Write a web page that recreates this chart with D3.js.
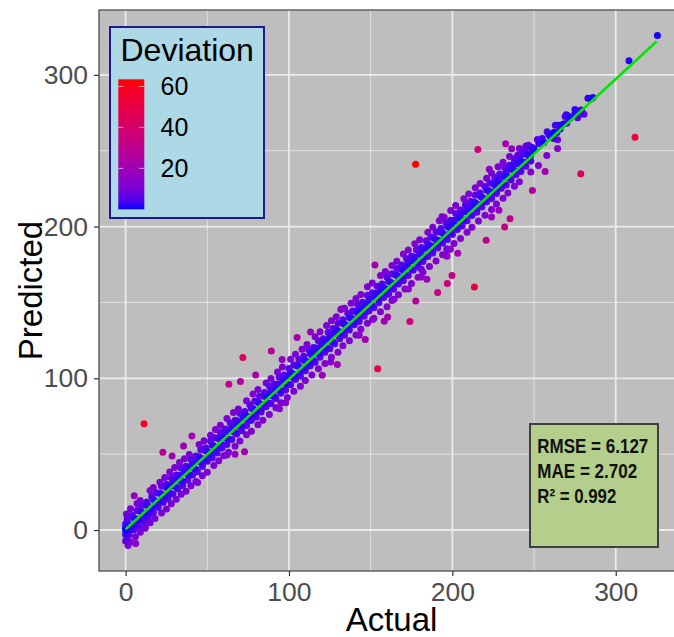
<!DOCTYPE html>
<html>
<head>
<meta charset="utf-8">
<script src="https://cdn.jsdelivr.net/npm/d3@7"></script>
<style>
  html, body { margin: 0; padding: 0; background: #ffffff; }
  svg { display: block; font-family: "Liberation Sans", Arial, sans-serif; }
</style>
</head>
<body>
<svg id="chart" width="674" height="637"></svg>
<script>
// ---------------- DATA ----------------
// [actual, predicted] pairs
const coreBand = [
  [0,0],[2,3.1],[4,3.2],[6,7.5],[8,6.8],[10,11.6],[12,11.0],[14,15.8],[16,14.9],[18,19.2],
  [20,18.4],[22,23.7],[24,22.6],[26,27.1],[28,29.5],[30,28.8],[32,33.4],[34,32.1],[36,37.6],[38,36.9],
  [40,41.8],[42,40.5],[44,45.2],[46,47.3],[48,46.6],[50,51.9],[52,50.7],[54,55.3],[56,54.2],[58,59.6],
  [60,61.1],[62,60.4],[64,65.8],[66,64.9],[68,69.5],[70,68.2],[72,73.6],[74,75.2],[76,74.5],[78,79.9],
  [80,78.6],[82,83.3],[84,82.4],[86,87.7],[88,89.1],[90,88.3],[92,93.5],[94,92.2],[96,97.8],[98,96.6],
  [100,101.4],[102,103.2],[104,102.5],[106,107.9],[108,106.4],[110,111.6],[112,110.8],[114,115.3],[116,117.5],[118,116.2],
  [120,121.8],[122,120.6],[124,125.4],[126,124.1],[128,129.7],[130,131.2],[132,130.3],[134,135.6],[136,134.7],[138,139.9],
  [140,138.5],[142,143.2],[144,145.6],[146,144.4],[148,149.3],[150,148.8],[152,153.7],[154,152.9],[156,157.4],[158,159.8],
  [160,158.6],[162,163.5],[164,162.3],[166,167.9],[168,166.7],[170,171.2],[172,173.8],[174,172.6],[176,177.4],[178,176.5],
  [180,181.7],[182,180.4],[184,185.5],[186,187.9],[188,186.8],[190,191.3],[192,190.6],[194,195.8],[196,194.4],[198,199.6],
  [200,201.9],[202,200.7],[204,205.4],[206,204.5],[208,209.8],[210,208.9],[212,213.1],[214,215.6],[216,214.3],[218,219.4],
  [220,218.2],[222,223.7],[224,222.8],[226,227.5],[228,229.9],[230,228.4],[232,233.2],[234,232.6],[236,237.8],[238,236.7],
  [240,241.4],[242,243.1],[244,242.2],[246,247.5],[248,246.9],[250,251.3],
  [253,254.8],[256,255.4],[259,260.6],[262,261.9],[265,266.7],[268,267.5],[271,272.8],[275,274.1]
];
const innerBand = [
  [1,3.9],[3,0.2],[5,8.1],[7,4.3],[9,12.2],[11,8.0],[13,16.3],[15,11.9],[17,20.1],[19,16.2],
  [21,24.0],[23,19.8],[25,28.2],[27,24.1],[29,31.8],[31,28.3],[33,36.1],[35,31.9],[37,40.2],[39,36.0],
  [41,43.8],[43,40.1],[45,48.3],[47,43.9],[49,52.0],[51,48.2],[53,56.1],[55,51.8],[57,60.2],[59,56.0],
  [61,64.1],[63,59.9],[65,68.3],[67,64.1],[69,71.9],[71,68.2],[73,76.0],[75,71.8],[77,80.2],[79,76.1],
  [81,84.3],[83,79.9],[85,88.1],[87,83.8],[89,92.2],[91,88.0],[93,96.1],[95,91.9],[97,100.3],[99,96.1],
  [101,104.0],[103,99.8],[105,108.2],[107,104.1],[109,112.1],[111,107.9],[113,116.3],[115,111.8],[117,120.0],[119,116.2],
  [121,124.1],[123,119.9],[125,128.2],[127,124.0],[129,132.1],[131,127.8],[133,136.3],[135,132.1],[137,140.0],[139,136.2],
  [141,144.2],[143,139.9],[145,148.1],[147,143.8],[149,152.3],[151,148.0],[153,156.1],[155,151.9],[157,160.2],[159,156.1],
  [161,164.0],[163,159.8],[165,168.2],[167,164.1],[169,172.1],[171,167.9],[173,176.3],[175,171.8],[177,180.0],[179,176.2],
  [181,184.1],[183,179.9],[185,188.2],[187,184.0],[189,192.1],[191,187.8],[193,196.3],[195,192.1],[197,200.0],[199,196.2],
  [201,204.2],[203,199.9],[205,208.1],[207,203.8],[209,212.3],[211,208.0],[213,216.1],[215,211.9],[217,220.2],[219,216.1],
  [221,224.0],[223,219.8],[225,228.2],[227,224.1],[229,232.1],[231,227.9],[233,236.3],[235,231.8],[237,240.0],[239,236.2],
  [241,244.1],[243,239.9],[245,248.2],[247,244.0],[249,252.1]
];
const upperShoulder = [
  [1,6.2],[4,9.5],[7,12.8],[10,16.1],[13,18.4],[16,22.3],[19,24.6],[22,28.9],[25,30.2],[28,34.5],
  [31,36.3],[34,40.8],[37,42.1],[40,46.4],[43,48.7],[46,52.9],[49,54.2],[52,58.6],[55,60.8],[58,64.3],
  [61,66.5],[64,70.7],[67,72.4],[70,76.8],[73,78.1],[76,82.5],[79,84.9],[82,88.2],[85,90.6],[88,94.9],
  [91,96.3],[94,100.7],[97,102.2],[100,106.5],[103,108.8],[106,112.4],[109,114.6],[112,118.9],[115,120.3],[118,124.7],
  [121,126.1],[124,130.4],[127,132.8],[130,136.2],[133,138.5],[136,142.9],[139,144.3],[142,148.6],[145,150.1],[148,154.8],
  [151,156.4],[154,160.7],[157,162.2],[160,166.5],[163,168.9],[166,172.3],[169,174.6],[172,178.8],[175,180.4],[178,184.7],
  [181,186.2],[184,190.6],[187,192.9],[190,196.4],[193,198.7],[196,202.5],[199,204.2],[202,208.6],[205,210.9],[208,214.3],
  [211,216.5],[214,220.8],[217,222.1],[220,226.4],[223,228.7],[226,232.3],[229,234.6],[232,238.9],[235,240.4],[238,244.6],
  [241,246.2],[244,250.5],[247,252.3]
];
const lowerShoulder = [
  [2,-3.1],[5,0.2],[8,2.4],[11,5.8],[14,9.3],[17,11.5],[20,14.9],[23,18.2],[26,20.4],[29,23.7],
  [32,27.1],[35,29.3],[38,32.8],[41,36.2],[44,38.4],[47,41.9],[50,45.3],[53,47.5],[56,50.8],[59,54.1],
  [62,56.3],[65,59.7],[68,63.2],[71,65.4],[74,68.9],[77,72.3],[80,74.5],[83,77.8],[86,81.2],[89,83.4],
  [92,86.7],[95,90.1],[98,92.3],[101,95.8],[104,99.2],[107,101.4],[110,104.9],[113,108.3],[116,110.5],[119,113.8],
  [122,117.2],[125,119.4],[128,122.7],[131,126.1],[134,128.3],[137,131.8],[140,135.2],[143,137.4],[146,140.9],[149,144.3],
  [152,146.5],[155,149.8],[158,153.2],[161,155.4],[164,158.7],[167,162.1],[170,164.3],[173,167.8],[176,171.2],[179,173.4],
  [182,176.9],[185,180.3],[188,182.5],[191,185.8],[194,189.2],[197,191.4],[200,194.7],[203,198.1],[206,200.3],[209,203.8],
  [212,207.2],[215,209.4],[218,212.9],[221,216.3],[224,218.5],[227,221.8],[230,225.2],[233,227.4],[236,230.7],[239,234.1],
  [242,236.3],[245,239.8],[248,243.2]
];
const outerScatter = [
  [3,14],[9,19.5],[15,26],[21,31.5],[27,38.2],[33,44.5],[39,49.8],[45,56.3],[52,62.4],[58,69.1],
  [66,77.5],[74,85.2],[81,92.6],[89,99.8],[96,107.4],[104,115.8],[111,122.3],[119,130.6],[126,137.9],[134,146.2],
  [141,152.5],[148,160.3],[156,167.8],[163,174.4],[170,181.9],[177,188.6],[185,196.2],[192,203.8],[199,210.5],[207,218.3],
  [214,225.6],[221,231.9],[228,239.4],[235,246.1],
  [6,-4.5],[12,1.2],[18,7.6],[25,13.8],[31,20.2],[37,25.6],[43,31.9],[50,38.1],[57,45.6],[63,51.2],
  [70,58.7],[77,65.1],[84,72.4],[92,80.6],[99,87.3],[107,94.8],[114,102.1],[122,109.7],[130,117.2],[137,124.8],
  [144,132.3],[152,139.6],[160,147.2],[167,155.1],[175,162.4],[182,169.8],[190,177.3],[197,184.6],[205,192.2],[212,199.5],
  [220,207.4],[227,214.8],[234,222.1],[241,229.6],
  [0,4],[0,-3],[1,8],[1,-5],[0.5,10.5],[2,-2],[0,1.5],[3,0],[1.5,-10.2],[0,-7.2]
];
const looseScatter = [
  [7,17.5],[17,28.1],[24,34.6],[30,41.2],[36,46.9],[48,58.8],[55,66.3],[62,73.5],[69,79.8],[78,89.6],
  [86,96.9],[93,104.2],[101,112.5],[108,119.1],[116,127.4],[123,134.8],[129,140.6],[138,149.5],[144,155.2],[151,162.8],
  [159,170.4],[166,177.1],[173,184.6],[180,191.3],[188,199.5],[195,206.2],[202,213.8],[210,221.4],[217,228.3],[224,235.1],
  [231,242.4],
  [9,-1.5],[15,4.8],[22,11.2],[28,17.3],[34,23.6],[40,29.1],[47,35.8],[54,42.6],[60,48.9],[67,55.2],
  [74,62.8],[81,69.4],[88,76.2],[95,83.9],[103,91.5],[110,98.6],[118,106.2],[126,113.8],[133,121.4],[141,128.6],
  [148,136.3],[156,143.8],[163,151.2],[171,158.9],[179,166.5],[186,173.7],[194,181.4],[201,188.9],[209,196.3],[216,203.6],
  [224,211.2],[231,218.7],[238,226.5]
];
const upperTail = [
  [252,257.3],[255,258.1],[258,262.4],[260,259.2],[263,266.8],[266,264.3],[269,272.5],[272,271.4],[275,277.2],[279,276.8],
  [283,284.5],[286,285.1],[276.7,271.7],[278.8,274.3],[269.7,273.7],[278.3,276.5],[284.9,284.2],[308.1,309.2],[325.5,325.9],
  [238,243],[240,247],[243,250],[245,253],[241,251.5],[246.6,253.5],[249.2,250.2],[238.4,243.6],[243,247.7],
  [264.4,257.2],[264,262],[270,268],[262,258],[280.6,274]
];
const outliers = [
  [177.5,241],[215.6,250.8],[311.8,258.9],[278.6,234.8],[249,223.8],[232.6,254.6],[236.3,251.3],[264.4,251.5],
  [256.8,236.3],[248,236],[257.8,246.9],[252.7,240.3],[222.6,237.7],[235.3,205.2],[232,199.7],[228.5,210.7],
  [224,206.3],[220.7,190.9],[213.5,160.2],[199.8,167.7],[196.9,162.4],[191,156.5],[177.6,151],[174,137.4],
  [203.3,182.4],[196.7,180.4],[198.8,185],[193.6,206.5],[181,171.8],[184.4,165.2],[181,166.8],[173.1,158.9],
  [196.5,185.4],[160.4,140.4],[158.3,137.6],[11.3,70],[71.8,113.7],[89.2,118],[22.8,51.2],[63.2,96.1],
  [70.3,97.9],[79.6,102.2],[95.8,112.4],[105,126.9],[40.6,61.9],[35.5,55.3],[28.5,48.7],[5.3,22.6],
  [11.9,2],[6.2,-8.8],[2.9,-7.9],[14.8,5.5],[72.8,51.6],[67,50],[62,49.4],[44.1,31.4],[94.2,79.9],[98,83.8],
  [154.3,106.2],[152.6,174.7],[146.7,125.5],[143,128.4],[129.6,109.1],[125.5,110.8],[120.4,102],[131.7,145.3],
  [113.2,130.5],[164.3,152.1],[151.2,138.7],[132.1,145.7]
];
// fitted (geom_smooth lm) line end points
const fitLine = [[0, 0.5], [325, 322]];
const majorTicks = [0, 100, 200, 300];
const minorTicks = [50, 150, 250, 350];
const legendTicks = [20, 40, 60];
const statsLines = ["RMSE = 6.127", "MAE = 2.702", "R\u00B2 = 0.992"];
const statsWidths = [111, 100, 79];
const axisTitles = { x: "Actual", y: "Predicted", legend: "Deviation" };

// ---------------- CHART ----------------
const W = 674, H = 637;
const panel = { left: 99, right: 684, top: 10, bottom: 571 };
const svg = d3.select("#chart");

const points = [].concat(coreBand, innerBand, upperShoulder, lowerShoulder, outerScatter, looseScatter, upperTail, outliers)
  .map(d => ({ a: d[0], p: d[1], dev: Math.abs(d[1] - d[0]) }));

function expand(ext) { const s = ext[1] - ext[0]; return [ext[0] - 0.05 * s, ext[1] + 0.05 * s]; }
const x = d3.scaleLinear().domain(expand(d3.extent(points, d => d.a))).range([panel.left, panel.right]);
const y = d3.scaleLinear().domain(expand(d3.extent(points, d => d.p))).range([panel.bottom, panel.top]);
const maxDev = d3.max(points, d => d.dev);
const color = d3.scaleLinear().domain([0, maxDev]).range(["blue", "red"]).interpolate(d3.interpolateLab);

const defs = svg.append("defs");
defs.append("clipPath").attr("id", "clip")
  .append("rect").attr("x", panel.left).attr("y", panel.top)
  .attr("width", panel.right - panel.left).attr("height", panel.bottom - panel.top);

// panel background
svg.append("rect").attr("x", panel.left).attr("y", panel.top)
  .attr("width", panel.right - panel.left).attr("height", panel.bottom - panel.top)
  .attr("fill", "#BEBEBE");

const grid = svg.append("g").attr("clip-path", "url(#clip)");
const xd = x.domain(), yd = y.domain();
grid.selectAll(".vminor").data(minorTicks.filter(v => v >= xd[0] && v <= xd[1])).join("line")
  .attr("x1", d => x(d)).attr("x2", d => x(d)).attr("y1", panel.top).attr("y2", panel.bottom)
  .attr("stroke", "#E4E4E4").attr("stroke-width", 0.9);
grid.selectAll(".hminor").data(minorTicks.filter(v => v >= yd[0] && v <= yd[1])).join("line")
  .attr("y1", d => y(d)).attr("y2", d => y(d)).attr("x1", panel.left).attr("x2", panel.right)
  .attr("stroke", "#E4E4E4").attr("stroke-width", 0.9);
grid.selectAll(".vmajor").data(majorTicks).join("line")
  .attr("x1", d => x(d)).attr("x2", d => x(d)).attr("y1", panel.top).attr("y2", panel.bottom)
  .attr("stroke", "#EBEBEB").attr("stroke-width", 1.8);
grid.selectAll(".hmajor").data(majorTicks).join("line")
  .attr("y1", d => y(d)).attr("y2", d => y(d)).attr("x1", panel.left).attr("x2", panel.right)
  .attr("stroke", "#EBEBEB").attr("stroke-width", 1.8);

// points
const ordered = points.slice().sort((u, v) => v.dev - u.dev);
svg.append("g").attr("clip-path", "url(#clip)")
  .selectAll("circle").data(ordered).join("circle")
  .attr("cx", d => x(d.a)).attr("cy", d => y(d.p)).attr("r", 3.5)
  .attr("fill", d => color(d.dev));

// fit line
svg.append("path").datum(fitLine)
  .attr("d", d3.line().x(d => x(d[0])).y(d => y(d[1])))
  .attr("stroke", "#00E600").attr("stroke-width", 2.6).attr("fill", "none");

// panel border
svg.append("rect").attr("x", panel.left).attr("y", panel.top)
  .attr("width", panel.right - panel.left).attr("height", panel.bottom - panel.top)
  .attr("fill", "none").attr("stroke", "#4D4D4D").attr("stroke-width", 1.3);

// axes
const xAxis = svg.append("g").attr("transform", `translate(0,${panel.bottom})`)
  .call(d3.axisBottom(x).tickValues(majorTicks).tickSize(5).tickPadding(6));
const yAxis = svg.append("g").attr("transform", `translate(${panel.left},0)`)
  .call(d3.axisLeft(y).tickValues(majorTicks).tickSize(5).tickPadding(6));
[xAxis, yAxis].forEach(g => {
  g.select(".domain").remove();
  g.selectAll(".tick line").attr("stroke", "#333333").attr("stroke-width", 1.2);
  g.selectAll(".tick text").attr("fill", "#4D4D4D").style("font-size", "26.5px")
    .style("font-family", "'Liberation Sans', Arial, sans-serif");
});

svg.append("text").attr("x", (panel.left + panel.right) / 2).attr("y", 631)
  .attr("text-anchor", "middle").style("font-size", "33px").attr("fill", "#000")
  .text(axisTitles.x);
svg.append("text").attr("transform", `translate(42,${(panel.top + panel.bottom) / 2}) rotate(-90)`)
  .attr("text-anchor", "middle").style("font-size", "33px").attr("fill", "#000")
  .text(axisTitles.y);

// legend
const lg = svg.append("g");
lg.append("rect").attr("x", 110).attr("y", 27).attr("width", 154).attr("height", 191)
  .attr("fill", "#ADD8E6").attr("stroke", "#1B1B8E").attr("stroke-width", 2);
lg.append("text").attr("x", 120.5).attr("y", 60.5).style("font-size", "32px").attr("fill", "#000")
  .text(axisTitles.legend);
const bar = { x: 118.3, y: 79.3, w: 26, h: 130 };
const ly = d3.scaleLinear().domain([0, maxDev]).range([bar.y + bar.h, bar.y]);
const grad = defs.append("linearGradient").attr("id", "devgrad")
  .attr("x1", 0).attr("y1", 1).attr("x2", 0).attr("y2", 0);
d3.range(0, 1.0001, 0.05).forEach(t => {
  grad.append("stop").attr("offset", t).attr("stop-color", color(t * maxDev));
});
lg.append("rect").attr("x", bar.x).attr("y", bar.y).attr("width", bar.w).attr("height", bar.h)
  .attr("fill", "url(#devgrad)");
legendTicks.forEach(v => {
  [[bar.x, bar.x + 5], [bar.x + bar.w - 5, bar.x + bar.w]].forEach(s => {
    lg.append("line").attr("x1", s[0]).attr("x2", s[1]).attr("y1", ly(v)).attr("y2", ly(v))
      .attr("stroke", "#ffffff").attr("stroke-opacity", 0.6).attr("stroke-width", 1);
  });
});
lg.selectAll(".ltext").data(legendTicks).join("text")
  .attr("x", 160.5).attr("y", d => ly(d)).attr("dy", "0.36em")
  .style("font-size", "25px").attr("fill", "#000").text(d => d);

// stats box
const sb = svg.append("g");
sb.append("rect").attr("x", 530).attr("y", 424).attr("width", 128).attr("height", 123)
  .attr("fill", "#B4CF8B").attr("stroke", "#404040").attr("stroke-width", 2);
sb.selectAll("text").data(statsLines).join("text")
  .attr("x", 537.3).attr("y", (d, i) => 453.3 + i * 24.7)
  .attr("textLength", (d, i) => statsWidths[i]).attr("lengthAdjust", "spacingAndGlyphs")
  .style("font-family", "'Liberation Sans', Arial, sans-serif")
  .style("font-weight", "bold").style("font-size", "19.5px").attr("fill", "#111")
  .text(d => d);
</script>
</body>
</html>
